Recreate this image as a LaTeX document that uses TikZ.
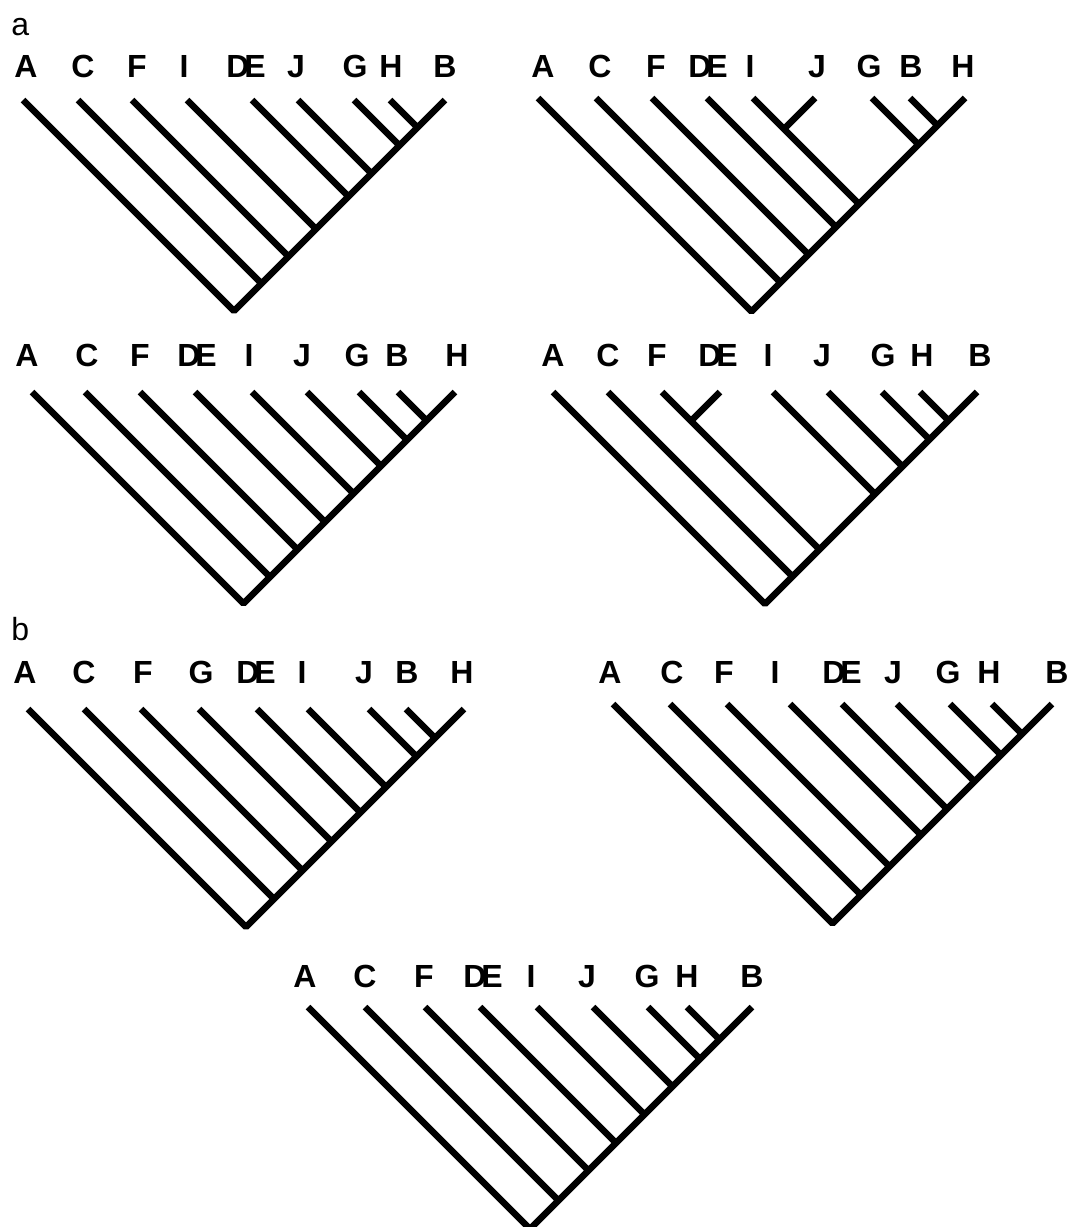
\documentclass[tikz,border=0pt]{standalone}
\usepackage{fontspec}
\setmainfont{Liberation Sans}

\begin{document}
\begin{tikzpicture}[
    x=0.5pt, y=-0.5pt,
    taxon/.style={font=\fontsize{16}{19}\selectfont\bfseries, inner sep=0pt, anchor=base},
    panel/.style={font=\fontsize{16}{19}\selectfont, inner sep=0pt, anchor=base west},
    branch/.style={line width=3.2pt, line join=bevel}
]
\useasboundingbox (0,0) rectangle (1071,1227);

\node[panel] (pa) at (11,35) {a};
\node[panel] (pb) at (11,640) {b};

\node[taxon] (a1A) at (26,77) {A};   \coordinate (a1At) at (23,100);
\node[taxon] (a1C) at (83,77) {C};   \coordinate (a1Ct) at (78,100);  \coordinate (a1Cj) at (261.5,283.5);
\node[taxon] (a1F) at (137,77) {F};  \coordinate (a1Ft) at (132,100); \coordinate (a1Fj) at (288.5,256.5);
\node[taxon] (a1I) at (184,77) {I};  \coordinate (a1It) at (187,100); \coordinate (a1Ij) at (316,229);
\node[taxon] (a1DE) at (246,77) {D\kern-2.5pt E}; \coordinate (a1DEt) at (252,100); \coordinate (a1DEj) at (348.5,196.5);
\node[taxon] (a1J) at (296,77) {J};  \coordinate (a1Jt) at (298,100); \coordinate (a1Jj) at (371.5,173.5);
\node[taxon] (a1G) at (355,77) {G};  \coordinate (a1Gt) at (354,100); \coordinate (a1Gj) at (399.5,145.5);
\node[taxon] (a1H) at (391,77) {H};  \coordinate (a1Ht) at (390,100); \coordinate (a1Hj) at (417.5,127.5);
\node[taxon] (a1B) at (445,77) {B};  \coordinate (a1Bt) at (445,100);
\coordinate (a1r) at (234,311);

\draw[branch] (a1At) -- (a1r) -- (a1Bt)
  (a1Ct) -- (a1Cj) (a1Ft) -- (a1Fj) (a1It) -- (a1Ij) (a1DEt) -- (a1DEj)
  (a1Jt) -- (a1Jj) (a1Gt) -- (a1Gj) (a1Ht) -- (a1Hj);

\node[taxon] (a2A) at (543,77) {A};  \coordinate (a2At) at (538,98);
\node[taxon] (a2C) at (600,77) {C};  \coordinate (a2Ct) at (596,98); \coordinate (a2Cj) at (780.5,282.5);
\node[taxon] (a2F) at (656,77) {F};  \coordinate (a2Ft) at (652,98); \coordinate (a2Fj) at (808.5,254.5);
\node[taxon] (a2DE) at (708,77) {D\kern-2.5pt E}; \coordinate (a2DEt) at (707,98); \coordinate (a2DEj) at (836,227);
\node[taxon] (a2I) at (750,77) {I};  \coordinate (a2It) at (753,98); \coordinate (a2Ij) at (859,204);
\node[taxon] (a2J) at (817,77) {J};  \coordinate (a2Jt) at (815,98); \coordinate (a2Jj) at (784,129);
\node[taxon] (a2G) at (869,77) {G};  \coordinate (a2Gt) at (872,98); \coordinate (a2Gj) at (918.5,144.5);
\node[taxon] (a2B) at (911,77) {B};  \coordinate (a2Bt) at (910,98); \coordinate (a2Bj) at (937.5,125.5);
\node[taxon] (a2H) at (963,77) {H};  \coordinate (a2Ht) at (965,98);
\coordinate (a2r) at (751.5,311.5);

\draw[branch] (a2At) -- (a2r) -- (a2Ht)
  (a2Ct) -- (a2Cj) (a2Ft) -- (a2Fj) (a2DEt) -- (a2DEj) (a2It) -- (a2Ij)
  (a2Jt) -- (a2Jj) (a2Gt) -- (a2Gj) (a2Bt) -- (a2Bj);

\node[taxon] (a3A) at (27,366) {A};  \coordinate (a3At) at (32,392);
\node[taxon] (a3C) at (87,366) {C};  \coordinate (a3Ct) at (85,392);  \coordinate (a3Cj) at (270,577);
\node[taxon] (a3F) at (140,366) {F}; \coordinate (a3Ft) at (140,392); \coordinate (a3Fj) at (297.5,549.5);
\node[taxon] (a3DE) at (197,366) {D\kern-2.5pt E}; \coordinate (a3DEt) at (195,392); \coordinate (a3DEj) at (325,522);
\node[taxon] (a3I) at (249,366) {I}; \coordinate (a3It) at (252,392); \coordinate (a3Ij) at (353.5,493.5);
\node[taxon] (a3J) at (302,366) {J}; \coordinate (a3Jt) at (307,392); \coordinate (a3Jj) at (381,466);
\node[taxon] (a3G) at (357,366) {G}; \coordinate (a3Gt) at (359,392); \coordinate (a3Gj) at (407,440);
\node[taxon] (a3B) at (397,366) {B}; \coordinate (a3Bt) at (398,392); \coordinate (a3Bj) at (426.5,420.5);
\node[taxon] (a3H) at (457,366) {H}; \coordinate (a3Ht) at (455,392);
\coordinate (a3r) at (243.5,603.5);

\draw[branch] (a3At) -- (a3r) -- (a3Ht)
  (a3Ct) -- (a3Cj) (a3Ft) -- (a3Fj) (a3DEt) -- (a3DEj) (a3It) -- (a3Ij)
  (a3Jt) -- (a3Jj) (a3Gt) -- (a3Gj) (a3Bt) -- (a3Bj);

\node[taxon] (a4A) at (553,366) {A}; \coordinate (a4At) at (553,392);
\node[taxon] (a4C) at (608,366) {C}; \coordinate (a4Ct) at (608,392); \coordinate (a4Cj) at (792.5,576.5);
\node[taxon] (a4F) at (657,366) {F}; \coordinate (a4Ft) at (662,392); \coordinate (a4Fj) at (819.5,549.5);
\node[taxon] (a4DE) at (718,366) {D\kern-2.5pt E}; \coordinate (a4DEt) at (720,392); \coordinate (a4DEj) at (691,421);
\node[taxon] (a4I) at (768,366) {I}; \coordinate (a4It) at (773,392); \coordinate (a4Ij) at (875,494);
\node[taxon] (a4J) at (822,366) {J}; \coordinate (a4Jt) at (828,392); \coordinate (a4Jj) at (902.5,466.5);
\node[taxon] (a4G) at (883,366) {G}; \coordinate (a4Gt) at (882,392); \coordinate (a4Gj) at (929.5,439.5);
\node[taxon] (a4H) at (922,366) {H}; \coordinate (a4Ht) at (920,392); \coordinate (a4Hj) at (948.5,420.5);
\node[taxon] (a4B) at (980,366) {B}; \coordinate (a4Bt) at (977,392);
\coordinate (a4r) at (765,604);

\draw[branch] (a4At) -- (a4r) -- (a4Bt)
  (a4Ct) -- (a4Cj) (a4Ft) -- (a4Fj) (a4DEt) -- (a4DEj) (a4It) -- (a4Ij)
  (a4Jt) -- (a4Jj) (a4Gt) -- (a4Gj) (a4Ht) -- (a4Hj);

\node[taxon] (b1A) at (25,683) {A};  \coordinate (b1At) at (28,709);
\node[taxon] (b1C) at (84,683) {C};  \coordinate (b1Ct) at (84,709);  \coordinate (b1Cj) at (274,899);
\node[taxon] (b1F) at (143,683) {F}; \coordinate (b1Ft) at (141,709); \coordinate (b1Fj) at (302.5,870.5);
\node[taxon] (b1G) at (201,683) {G}; \coordinate (b1Gt) at (199,709); \coordinate (b1Gj) at (331.5,841.5);
\node[taxon] (b1DE) at (256,683) {D\kern-2.5pt E}; \coordinate (b1DEt) at (257,709); \coordinate (b1DEj) at (360.5,812.5);
\node[taxon] (b1I) at (302,683) {I}; \coordinate (b1It) at (308,709); \coordinate (b1Ij) at (386,787);
\node[taxon] (b1J) at (364,683) {J}; \coordinate (b1Jt) at (369,709); \coordinate (b1Jj) at (416.5,756.5);
\node[taxon] (b1B) at (407,683) {B}; \coordinate (b1Bt) at (406,709); \coordinate (b1Bj) at (435,738);
\node[taxon] (b1H) at (462,683) {H}; \coordinate (b1Ht) at (464,709);
\coordinate (b1r) at (246,927);

\draw[branch] (b1At) -- (b1r) -- (b1Ht)
  (b1Ct) -- (b1Cj) (b1Ft) -- (b1Fj) (b1Gt) -- (b1Gj) (b1DEt) -- (b1DEj)
  (b1It) -- (b1Ij) (b1Jt) -- (b1Jj) (b1Bt) -- (b1Bj);

\node[taxon] (b2A) at (610,683) {A};  \coordinate (b2At) at (613,704);
\node[taxon] (b2C) at (672,683) {C};  \coordinate (b2Ct) at (670,704); \coordinate (b2Cj) at (861,895);
\node[taxon] (b2F) at (724,683) {F};  \coordinate (b2Ft) at (727,704); \coordinate (b2Fj) at (889.5,866.5);
\node[taxon] (b2I) at (775,683) {I};  \coordinate (b2It) at (790,704); \coordinate (b2Ij) at (921,835);
\node[taxon] (b2DE) at (842,683) {D\kern-2.5pt E}; \coordinate (b2DEt) at (842,704); \coordinate (b2DEj) at (947,809);
\node[taxon] (b2J) at (893,683) {J};  \coordinate (b2Jt) at (897,704); \coordinate (b2Jj) at (974.5,781.5);
\node[taxon] (b2G) at (948,683) {G};  \coordinate (b2Gt) at (950,704); \coordinate (b2Gj) at (1001,755);
\node[taxon] (b2H) at (989,683) {H};  \coordinate (b2Ht) at (992,704); \coordinate (b2Hj) at (1022,734);
\node[taxon] (b2B) at (1057,683) {B}; \coordinate (b2Bt) at (1052,704);
\coordinate (b2r) at (832.5,923.5);

\draw[branch] (b2At) -- (b2r) -- (b2Bt)
  (b2Ct) -- (b2Cj) (b2Ft) -- (b2Fj) (b2It) -- (b2Ij) (b2DEt) -- (b2DEj)
  (b2Jt) -- (b2Jj) (b2Gt) -- (b2Gj) (b2Ht) -- (b2Hj);

\node[taxon] (b3A) at (305,987) {A}; \coordinate (b3At) at (308,1007);
\node[taxon] (b3C) at (365,987) {C}; \coordinate (b3Ct) at (365,1007); \coordinate (b3Cj) at (558.5,1200.5);
\node[taxon] (b3F) at (424,987) {F}; \coordinate (b3Ft) at (425,1007); \coordinate (b3Fj) at (588.5,1170.5);
\node[taxon] (b3DE) at (483,987) {D\kern-2.5pt E}; \coordinate (b3DEt) at (480,1007); \coordinate (b3DEj) at (616,1143);
\node[taxon] (b3I) at (531,987) {I}; \coordinate (b3It) at (537,1007); \coordinate (b3Ij) at (644.5,1114.5);
\node[taxon] (b3J) at (587,987) {J}; \coordinate (b3Jt) at (593,1007); \coordinate (b3Jj) at (672.5,1086.5);
\node[taxon] (b3G) at (647,987) {G}; \coordinate (b3Gt) at (648,1007); \coordinate (b3Gj) at (700,1059);
\node[taxon] (b3H) at (687,987) {H}; \coordinate (b3Ht) at (687,1007); \coordinate (b3Hj) at (719.5,1039.5);
\node[taxon] (b3B) at (752,987) {B}; \coordinate (b3Bt) at (752,1007);
\coordinate (b3r) at (530,1229);

\draw[branch] (b3At) -- (b3r) -- (b3Bt)
  (b3Ct) -- (b3Cj) (b3Ft) -- (b3Fj) (b3DEt) -- (b3DEj) (b3It) -- (b3Ij)
  (b3Jt) -- (b3Jj) (b3Gt) -- (b3Gj) (b3Ht) -- (b3Hj);
\end{tikzpicture}
\end{document}
